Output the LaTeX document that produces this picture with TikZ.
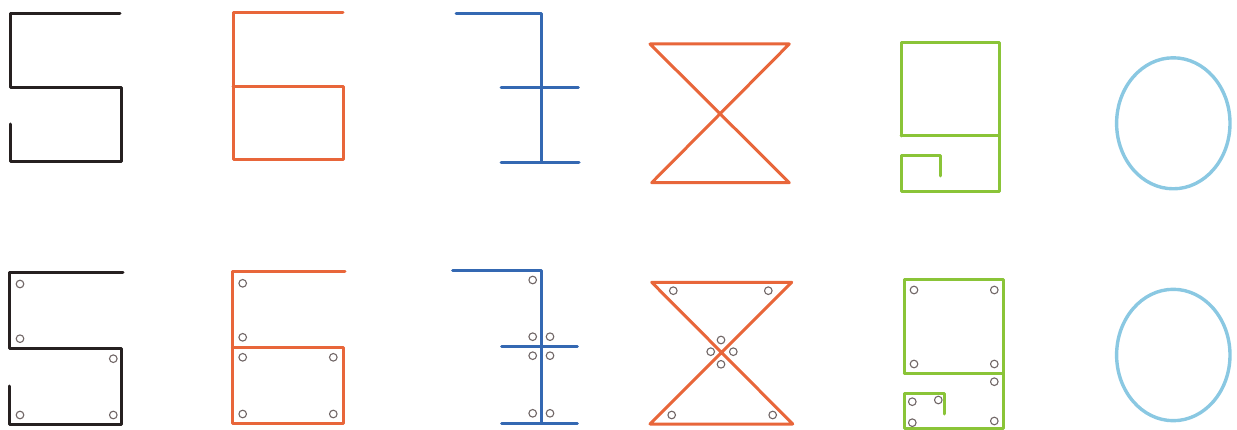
\documentclass[tikz,border=0pt]{standalone}
\usepackage{xcolor}
\usepackage{tikz}

\definecolor{noir}{RGB}{38,32,32}
\definecolor{orangerouge}{RGB}{232,102,58}
\definecolor{bleu}{RGB}{52,104,178}
\definecolor{vert}{RGB}{138,196,56}
\definecolor{bleuclair}{RGB}{138,200,226}
\definecolor{gristrou}{RGB}{112,102,102}

\begin{document}
\begin{tikzpicture}[x=1pt,y=-1pt, line join=round, line cap=round,
                    trait/.style={line width=3pt},
                    rond/.style={line width=3.4pt},
                    trou/.style={draw=gristrou, line width=1.1pt}]
    \useasboundingbox (0,0) rectangle (1237,430);

    % Rangée du haut : chiffres tracés d'un seul trait
    \draw[trait, noir] (120,13.3) -- (10,13.3) -- (10,87.7) -- (121,87.7) -- (121,161.7) -- (10,161.7) -- (10,124);
    \draw[trait, orangerouge] (343,13) -- (233,13) -- (233,159.3) -- (343.3,159.3) -- (343.3,86.7) -- (233,86.7);
    \draw[trait, bleu] (456,13.3) -- (541.7,13.3) -- (541.7,162.3);
    \draw[trait, bleu] (501,87.3) -- (578.3,87.3);
    \draw[trait, bleu] (501,162.3) -- (579,162.3);
    \draw[trait, orangerouge] (650,44) -- (789.3,44) -- (651.7,182.7) -- (789.3,182.7) -- cycle;
    \draw[trait, vert] (901,136) -- (901,42.7) -- (999.3,42.7) -- (999.3,191.7) -- (901,191.7) -- (901,155.5) -- (940,155.5) -- (940,176);
    \draw[trait, vert] (901,136) -- (999.3,136);
    \draw[rond, bleuclair] (1173.3,123.3) ellipse [x radius=56.7pt, y radius=65.5pt];

    % Rangée du bas : mêmes chiffres, avec les trous
    \draw[trait, noir] (123,272.3) -- (9.3,272.3) -- (9.3,348) -- (121,348) -- (121,424) -- (9.3,424) -- (9.3,386);
    \draw[trait, orangerouge] (345,271.7) -- (232.3,271.7) -- (232.3,423) -- (343.3,423) -- (343.3,347.3) -- (232.3,347.3);
    \draw[trait, bleu] (452.7,270.7) -- (541.7,270.7) -- (541.7,423);
    \draw[trait, bleu] (501.7,346.7) -- (577.3,346.7);
    \draw[trait, bleu] (501.7,423) -- (577.3,423);
    \draw[trait, orangerouge] (651.7,282.3) -- (791.7,282.3) -- (650,424) -- (792.7,424) -- cycle;
    \draw[trait, vert] (904.3,373.3) -- (904.3,280) -- (1003.3,280) -- (1003.3,428) -- (904.3,428) -- (904.3,393.3) -- (944.3,393.3) -- (944.3,414);
    \draw[trait, vert] (904.3,373.3) -- (1003.3,373.3);
    \draw[rond, bleuclair] (1173.3,355) ellipse [x radius=56.7pt, y radius=65.7pt];

    % Trous
    \foreach \x/\y in {20/284, 20/338.7, 113.3/358.7, 20/415, 113.3/415,
                       242.7/283.3, 242.7/337.3, 242.7/357.3, 333.3/357.3, 242.7/414, 333.3/414,
                       532.7/280, 532.7/336.7, 550/336.7, 532.7/355.7, 550/355.7, 532.7/413.3, 550/413.3,
                       673.3/290.7, 768.3/290.7, 721/340, 710.7/351.7, 733.3/351.7, 721/364.3, 671.7/415, 772.7/415,
                       914/290, 994.3/290, 914/364, 994.3/364, 994.3/381.7, 912.3/401.7, 938.3/400, 912.3/422.7, 994.3/421}
        \draw[trou] (\x,\y) circle[radius=3.8pt];

\end{tikzpicture}
\end{document}
